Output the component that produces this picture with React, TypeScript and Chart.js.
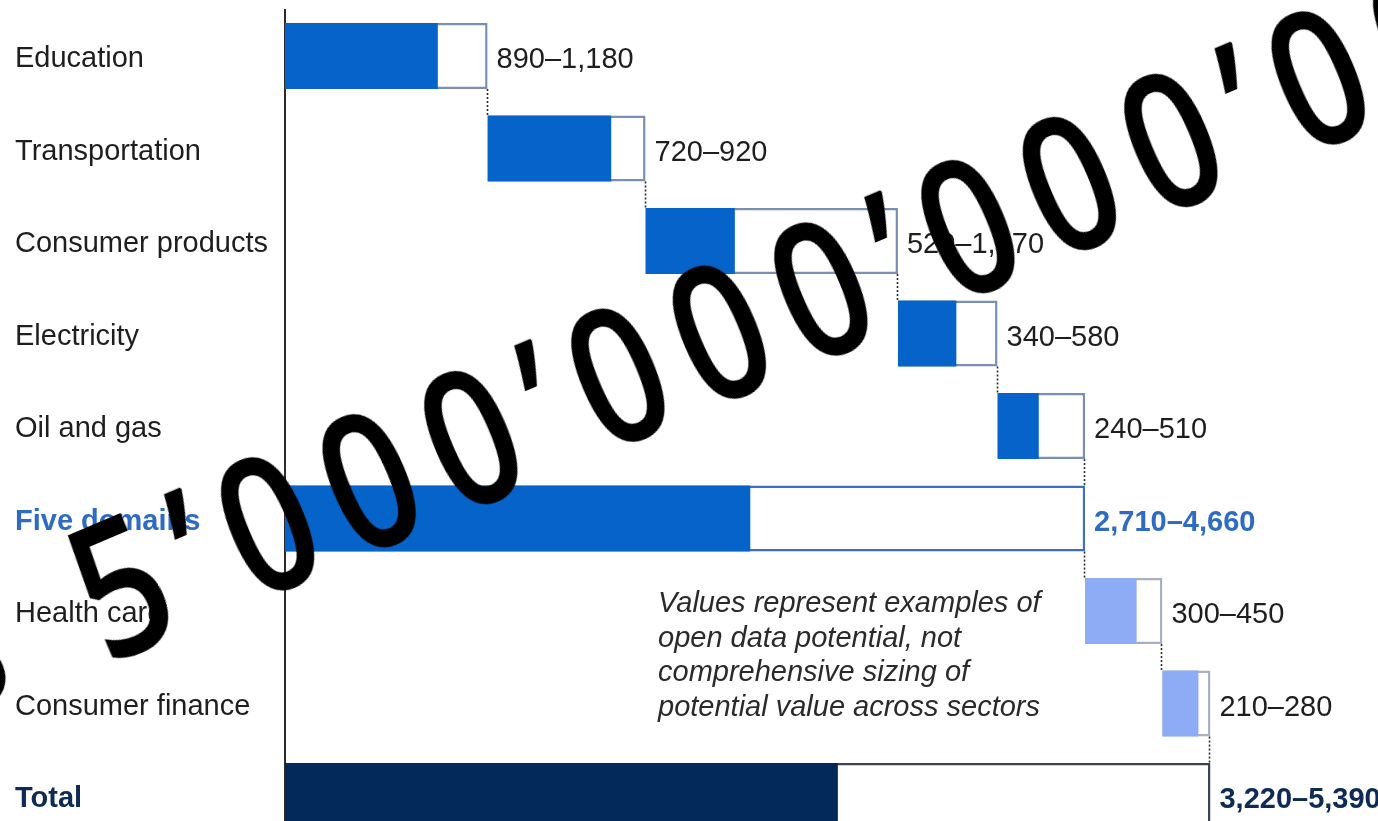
import React, { useEffect, useRef } from "react";
import { Chart, registerables } from "chart.js";

Chart.register(...registerables);

const categories = [
  "Education",
  "Transportation",
  "Consumer products",
  "Electricity",
  "Oil and gas",
  "Five domains",
  "Health care",
  "Consumer finance",
  "Total",
];
const lowValues = [890, 720, 520, 340, 240, 2710, 300, 210, 3220];
const highValues = [1180, 920, 1470, 580, 510, 4660, 450, 280, 5390];
const barKinds = ["domain", "domain", "domain", "domain", "domain", "subtotal", "other", "other", "total"];
const noteLines = [
  "Values represent examples of",
  "open data potential, not",
  "comprehensive sizing of",
  "potential value across sectors",
];
const bannerText = "$ 5\u2019000\u2019000\u2019000\u2019000";

const fillColors: Record<string, string> = {
  domain: "#0663c9",
  subtotal: "#0663c9",
  other: "#8eabf5",
  total: "#02295a",
};
const borderColors: Record<string, string> = {
  domain: "#7b8fb5",
  subtotal: "#3d6fc4",
  other: "#a8b0c8",
  total: "#3a4656",
};
const labelColors: Record<string, string> = {
  domain: "#1e1e1e",
  subtotal: "#2f6bc4",
  other: "#1e1e1e",
  total: "#0e2a55",
};

function computeBases(): number[] {
  const bases: number[] = [];
  let running = 0;
  barKinds.forEach((k, i) => {
    if (k === "subtotal" || k === "total") {
      bases.push(0);
    } else {
      bases.push(running);
      running += highValues[i];
    }
  });
  return bases;
}

const FONT = "'Liberation Sans', Arial, sans-serif";
const FS = 29;

function Banner() {
  const parts = bannerText.split("");
  return (
    <div
      style={{
        position: "absolute",
        left: 748,
        top: 314,
        transform: "translate(-50%, -50%) rotate(-23deg) scaleX(0.82)",
        fontFamily: "'Open Sans', 'Noto Sans', sans-serif",
        fontWeight: 600,
        fontSize: 188,
        lineHeight: 1,
        color: "#000000",
        whiteSpace: "pre",
        pointerEvents: "none",
      }}
    >
      {parts.map((ch, i) => (
        <span
          key={i}
          style={{ letterSpacing: ch === " " ? 31 : ch === "\u2019" ? 24 : 27 }}
        >
          {ch}
        </span>
      ))}
    </div>
  );
}

export default function App() {
  const canvasRef = useRef<HTMLCanvasElement | null>(null);

  useEffect(() => {
    const bases = computeBases();
    const fmt = (v: number) => v.toLocaleString("en-US");

    const overlay = {
      id: "overlay",
      afterDatasetsDraw(chart: any) {
        const { ctx, scales } = chart;
        const xs = scales.x;
        const meta = chart.getDatasetMeta(1);
        ctx.save();
        // connectors
        ctx.strokeStyle = "#2a2a2a";
        ctx.lineWidth = 1.6;
        ctx.setLineDash([2, 2]);
        for (let i = 0; i < categories.length - 1; i++) {
          const el = meta.data[i];
          const nx = meta.data[i + 1];
          const px = Math.round(xs.getPixelForValue(bases[i] + highValues[i])) - 0.5;
          const y0 = el.y + el.height / 2;
          const y1 = nx.y - nx.height / 2;
          ctx.beginPath();
          ctx.moveTo(px, y0);
          ctx.lineTo(px, y1);
          ctx.stroke();
        }
        ctx.setLineDash([]);
        // value labels
        ctx.textBaseline = "middle";
        ctx.textAlign = "left";
        for (let i = 0; i < categories.length; i++) {
          const el = meta.data[i];
          const k = barKinds[i];
          const bold = k === "subtotal" || k === "total";
          ctx.font = `${bold ? "bold " : ""}${FS}px ${FONT}`;
          ctx.fillStyle = labelColors[k];
          const px = xs.getPixelForValue(bases[i] + highValues[i]) + 9;
          ctx.fillText(`${fmt(lowValues[i])}\u2013${fmt(highValues[i])}`, px, el.y + 4);
        }
        // note
        ctx.font = `italic ${FS}px ${FONT}`;
        ctx.fillStyle = "#2a2a2a";
        noteLines.forEach((line, j) => {
          ctx.fillText(line, 658, 604 + j * 34.7);
        });
        ctx.restore();
      },
    };

    const chart = new Chart(canvasRef.current as HTMLCanvasElement, {
      type: "bar",
      data: {
        labels: categories,
        datasets: [
          {
            label: "Low",
            data: categories.map((_, i) => [bases[i], bases[i] + lowValues[i]]) as any,
            backgroundColor: barKinds.map((k) => fillColors[k]),
            borderWidth: 0,
            grouped: false,
            categoryPercentage: 1,
            barPercentage: 0.715,
          },
          {
            label: "High",
            data: categories.map((_, i) => [bases[i], bases[i] + highValues[i]]) as any,
            backgroundColor: "#ffffff",
            borderColor: barKinds.map((k) => borderColors[k]),
            borderWidth: 2.5,
            borderSkipped: false,
            grouped: false,
            categoryPercentage: 1,
            barPercentage: 0.715,
          },
        ],
      },
      options: {
        indexAxis: "y",
        responsive: false,
        animation: false,
        maintainAspectRatio: false,
        layout: { padding: { left: 15, right: 62.8, top: 9.75, bottom: 2.75 } },
        plugins: {
          legend: { display: false },
          tooltip: { enabled: false },
          title: { display: false },
        },
        scales: {
          x: {
            type: "linear",
            display: false,
            min: 0,
            max: 6000,
          },
          y: {
            type: "category",
            grid: { display: false, drawTicks: false },
            border: { display: true, color: "#2b2b2b", width: 2 },
            afterFit(scale: any) {
              scale.width = 270;
              scale.paddingTop = 0;
              scale.paddingBottom = 0;
            },
            ticks: {
              crossAlign: "far",
              padding: 0,
              labelOffset: 3,
              color: (c: any) => labelColors[barKinds[c.index]],
              font: (c: any) => {
                const k = barKinds[c.index];
                return {
                  family: FONT,
                  size: FS,
                  weight: k === "subtotal" || k === "total" ? "bold" : "normal",
                };
              },
            },
          },
        },
      },
      plugins: [overlay],
    });
    return () => chart.destroy();
  }, []);

  return (
    <div
      style={{
        position: "fixed",
        left: 0,
        top: 0,
        width: 1378,
        height: 821,
        overflow: "hidden",
        background: "#ffffff",
      }}
    >
      <canvas ref={canvasRef} width={1378} height={845} style={{ display: "block" }} />
      <Banner />
    </div>
  );
}
